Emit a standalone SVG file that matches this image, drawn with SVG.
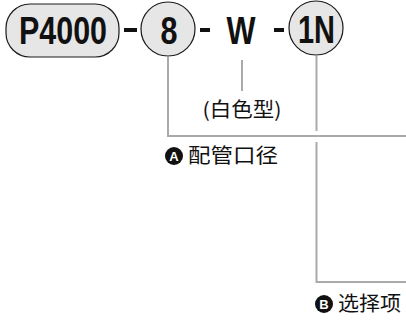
<svg xmlns="http://www.w3.org/2000/svg" width="406" height="320" viewBox="0 0 406 320">
<style>
.shape{fill:#e6e6e6;stroke:#1a1a1a;stroke-width:1.2}
.code{font-family:"Liberation Sans",Arial,sans-serif;font-weight:bold;font-size:38px;fill:#111;text-anchor:middle}
.dash{fill:#111}
.line{fill:none;stroke:#aaaaaa;stroke-width:2}
.cjk{font-family:"Noto Sans CJK SC","Noto Sans",sans-serif;font-size:20px;fill:#111}
.badge{fill:#111}
.bl{font-family:"Liberation Sans",Arial,sans-serif;font-weight:bold;font-size:13px;fill:#fff;text-anchor:middle}
</style>
<g id="connectors">
<path class="line" d="M168 57 V136 H406"/>
<path class="line" d="M242 60 V91"/>
<path class="line" d="M316.5 56 V131"/>
<path class="line" d="M316.5 142 V282 H406"/>
</g>
<g id="node-p4000">
<rect class="shape" x="6" y="4" width="113" height="53" rx="24"/>
<text class="code" x="63" y="44" textLength="88" lengthAdjust="spacingAndGlyphs">P4000</text>
</g>
<g id="dash1"><rect class="dash" x="124" y="28" width="13" height="4"/></g>
<g id="node-8">
<circle class="shape" cx="168" cy="29" r="27"/>
<text class="code" x="169" y="44" textLength="17" lengthAdjust="spacingAndGlyphs">8</text>
</g>
<g id="dash2"><rect class="dash" x="200" y="28" width="10" height="4"/></g>
<g id="node-w">
<text class="code" x="241" y="44" textLength="29" lengthAdjust="spacingAndGlyphs">W</text>
</g>
<g id="dash3"><rect class="dash" x="274" y="28" width="10" height="4"/></g>
<g id="node-1n">
<circle class="shape" cx="316" cy="28" r="27"/>
<text class="code" x="316.5" y="43" textLength="37" lengthAdjust="spacingAndGlyphs">1N</text>
</g>
<g id="label-white">
<text class="cjk" x="242" y="117" text-anchor="middle" textLength="79" lengthAdjust="spacingAndGlyphs">(白色型)</text>
</g>
<g id="label-a">
<circle class="badge" cx="174" cy="156" r="9"/>
<text class="bl" x="174" y="160.5">A</text>
<text class="cjk" x="188" y="163" font-size="21" textLength="90" lengthAdjust="spacingAndGlyphs">配管口径</text>
</g>
<g id="label-b">
<circle class="badge" cx="324" cy="304" r="9"/>
<text class="bl" x="324" y="308.5">B</text>
<text class="cjk" x="338" y="311" font-size="21" textLength="63" lengthAdjust="spacingAndGlyphs">选择项</text>
</g>
</svg>
